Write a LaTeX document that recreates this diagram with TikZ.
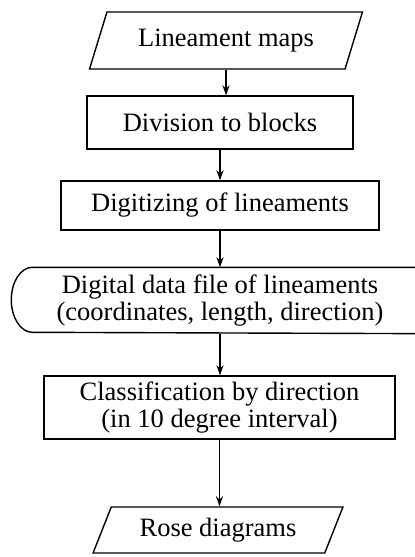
\documentclass[tikz,border=0pt]{standalone}
\usepackage{fontspec}
\setmainfont{Liberation Serif}
\usetikzlibrary{arrows.meta,shapes.geometric}

\begin{document}
\begin{tikzpicture}[>={Stealth[length=10pt,width=7pt]}, x=1pt, y=1pt, line width=1.4pt,
    every node/.style={font=\fontsize{26.5}{27}\selectfont},
    procbox/.style={rectangle, draw, inner sep=0pt, align=center},
    iobox/.style={trapezium, trapezium left angle=61, trapezium right angle=119,
        trapezium stretches=true, draw, inner sep=0pt}]
    \useasboundingbox (0,0) rectangle (415,-557);

    % Input and processing steps
    \node (maps) at (226,-40.5) [iobox, minimum width=273pt, minimum height=57pt] {Lineament maps};
    \node (blocks) at (220,-122.5) [procbox, minimum width=266pt, minimum height=53pt] {Division to blocks};
    \node (digit) at (220,-205.5) [procbox, minimum width=318pt, minimum height=49pt] {Digitizing of lineaments};

    % The data file (open at the right)
    \node (datafile) at (220,-300.5) [inner sep=0pt, align=center, minimum width=374pt, minimum height=65pt]
        {Digital data file of lineaments\\(coordinates, length, direction)};
    \draw ([xshift=30pt]datafile.north east) -- (datafile.north west)
        arc[start angle=90, end angle=270, x radius=21pt, y radius=32.5pt]
        -- ([xshift=30pt]datafile.south east);

    \node (classif) at (219.5,-407.5) [procbox, minimum width=351pt, minimum height=63pt]
        {Classification by direction\\(in 10 degree interval)};
    \node (rose) at (218,-530) [iobox, minimum width=250pt, minimum height=46pt] {Rose diagrams};

    % Flow
    \draw[->] (maps.south) -- (maps.south |- blocks.north);
    \draw[->] (blocks.south) -- (blocks.south |- digit.north);
    \draw[->] (digit.south) -- (digit.south |- datafile.north);
    \draw[->] (datafile.south) -- (datafile.south |- classif.north);
    \draw[->] (classif.south) -- (classif.south |- rose.north);
\end{tikzpicture}
\end{document}
